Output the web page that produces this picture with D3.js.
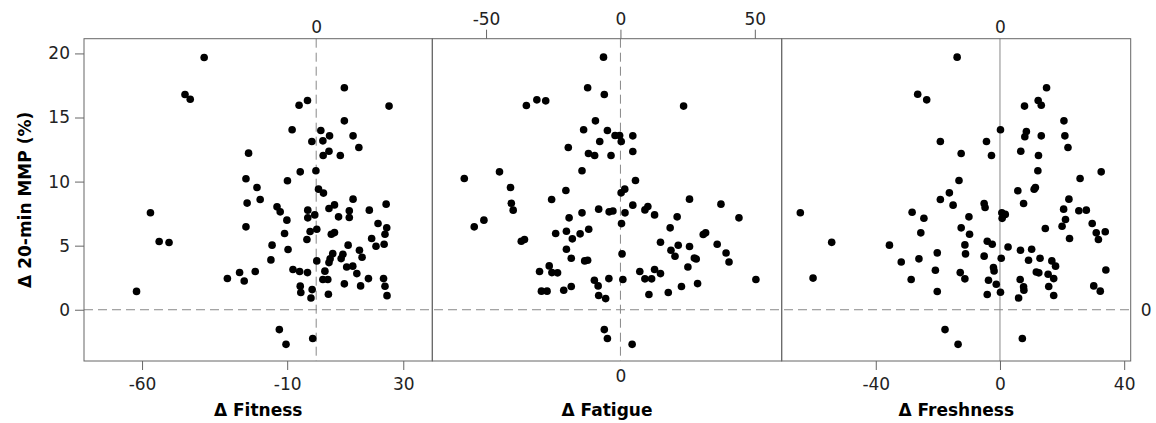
<!DOCTYPE html>
<html>
<head>
<meta charset="utf-8">
<script src="https://cdn.jsdelivr.net/npm/d3@7"></script>
<style>
  body { margin: 0; background: #fff; }
  svg { display: block; font-family: "DejaVu Sans", Verdana, sans-serif; }
  .tick text, .lbl { fill: #222; font-size: 17px; font-family: "DejaVu Sans", Verdana, sans-serif; }
  .tick line { stroke: #666; }
  .title { font-weight: bold; font-size: 17px; fill: #000; }
</style>
</head>
<body>
<svg id="chart" width="1156" height="423"></svg>
<script>
// y values shared by all three panels
var yTicks = [0, 5, 10, 15, 20];
var yDomain = [-4, 21.15];

// Δ Fitness vs Δ 20-min MMP
var fitness = [
  [-38.6,19.68],[-45.2,16.8],[-43.4,16.43],[-57.1,7.57],[-54.1,5.33],[-50.7,5.25],[-61.9,1.43],
  [-30.6,2.44],[-26.4,2.91],[-24.8,2.24],[-23.3,12.22],[-24.2,10.22],[-23.8,8.32],[-24.2,6.47],
  [9.7,17.32],[25.1,15.89],[-5.9,15.96],[-3.0,16.33],[9.7,14.74],[-8.3,14.04],[1.6,13.99],
  [4.6,13.57],[2.3,13.18],[-1.5,13.13],[12.7,13.57],[14.7,12.66],[4.4,12.37],[2.4,12.04],
  [8.3,12.04],[-5.5,10.76],[-0.1,10.84],[-9.9,10.06],[0.8,9.41],[2.5,9.10],[-20.4,9.54],
  [-19.3,8.60],[12.7,8.63],[24.1,8.24],[-13.5,8.03],[-12.4,7.64],[-10.1,6.99],[-2.9,7.77],
  [-2.9,7.17],[-0.5,7.40],[4.4,7.90],[6.3,8.18],[7.7,7.25],[11.4,7.72],[11.4,7.20],[18.3,7.77],
  [21.3,6.73],[24.3,6.39],[23.7,5.89],[-2.1,6.10],[0.2,6.28],[-3.2,5.48],[-10.9,5.95],[5.2,5.89],
  [6.3,6.02],[19.1,5.56],[20.6,4.96],[23.4,5.11],[-15.2,5.04],[-9.7,4.70],[-15.6,3.89],
  [-21.0,2.98],[11.0,5.04],[14.9,4.64],[15.8,4.10],[5.7,4.38],[4.8,3.97],[4.4,3.68],[9.2,4.33],
  [8.6,3.99],[10.5,3.34],[12.6,3.40],[14.0,2.82],[18.0,2.43],[15.3,1.86],[9.7,2.02],[0.2,3.81],
  [-8.0,3.14],[-5.7,2.98],[-3.0,2.90],[3.0,3.01],[2.3,2.36],[4.0,2.36],[-5.5,1.84],[-5.3,1.34],
  [-1.4,1.57],[-1.8,0.92],[4.2,1.21],[23.2,2.43],[23.7,1.83],[24.4,1.10],[-12.7,-1.55],
  [-10.4,-2.70],[-1.2,-2.25]
];

// Δ Fatigue vs Δ 20-min MMP
var fatigue = [
  [-6.3,19.71],[-12.2,17.32],[-6.0,16.80],[-35.0,15.94],[-31.1,16.38],[-27.8,16.30],[-9.3,14.74],
  [-13.7,14.04],[-4.85,13.99],[-7.7,13.13],[-11.9,12.19],[-9.6,12.03],[-3.5,12.03],[-19.4,12.66],
  [-14.3,10.84],[-58.1,10.24],[-45.0,10.76],[-40.9,9.54],[-40.6,8.31],[-39.9,7.77],[-20.3,9.30],
  [-25.6,8.60],[-54.4,6.47],[-50.8,6.99],[-36.9,5.35],[-35.7,5.48],[-19.1,7.17],[-14.3,7.56],
  [-8.1,7.85],[-4.2,7.64],[-24.1,5.95],[-20.1,6.13],[-17.9,5.53],[-15.0,5.92],[-11.8,6.28],
  [-20.1,4.72],[-18.3,4.02],[-13.3,3.81],[-12.2,3.86],[-30.1,2.98],[-26.5,3.42],[-25.5,2.90],
  [-23.4,2.88],[-29.4,1.45],[-27.3,1.45],[-21.1,1.52],[-18.3,1.81],[-9.7,2.30],[-8.3,1.86],
  [-8.1,1.11],[-5.5,0.87],[-4.3,2.43],[-6.0,-1.55],[-4.85,-2.25],
  [23.5,15.89],[-2.0,13.6],[-0.3,13.6],[0.3,13.13],[4.6,13.57],[4.6,12.35],[5.6,10.08],
  [0.25,9.12],[1.6,9.41],[25.7,8.63],[37.4,8.24],[44.1,7.17],[-2.8,7.7],[1.7,7.56],[4.6,8.16],
  [9.1,7.79],[10.2,8.05],[12.7,7.40],[0.4,6.72],[21.1,7.25],[18.5,6.39],[30.8,5.87],[31.7,6.00],
  [14.9,5.27],[21.5,5.03],[18.8,4.64],[20.3,4.17],[25.7,4.93],[36.0,5.11],[39.3,4.43],[40.4,3.73],
  [25.1,3.34],[27.5,4.04],[28.2,3.96],[0.6,4.36],[7.2,2.98],[9.1,2.41],[11.6,2.41],[12.7,3.14],
  [14.9,2.82],[0.9,2.36],[10.6,1.19],[17.8,1.34],[22.7,1.81],[28.7,2.04],[50.4,2.36],[4.35,-2.70]
];

// Δ Freshness vs Δ 20-min MMP
var freshness = [
  [-64.3,7.57],[-60.2,2.47],[-54.2,5.26],
  [-13.8,19.71],[-26.5,16.82],[-23.6,16.38],[-19.2,13.13],[-12.5,12.19],[-4.35,13.13],
  [-2.74,12.03],[-13.2,10.08],[-16.3,9.12],[-19.2,8.60],[-15.1,8.16],[-28.3,7.61],[-24.5,7.14],
  [-25.5,6.00],[-5.1,8.29],[-4.8,7.98],[-10.0,7.25],[-12.5,6.39],[-9.8,5.89],[-11.3,5.06],
  [-11.1,4.36],[-4.1,5.35],[-2.5,5.11],[-5.1,4.18],[-35.6,5.04],[-31.8,3.73],[-26.1,3.97],
  [-20.2,4.44],[-20.8,3.08],[-12.8,2.90],[-11.3,2.41],[-28.6,2.36],[-20.2,1.42],[-2.1,3.29],
  [-1.9,3.03],[-3.7,2.30],[-1.2,1.99],[-4.1,1.19],[-17.7,-1.55],[-13.5,-2.70],
  [15.0,17.32],[7.9,15.89],[12.3,16.33],[13.3,15.96],[20.6,14.74],[0.16,14.04],[8.5,13.9],
  [8.0,13.5],[13.3,13.57],[20.9,13.57],[21.9,12.66],[6.7,12.37],[12.4,12.03],[12.2,10.84],
  [32.6,10.76],[25.8,10.24],[11.0,9.4],[11.4,9.54],[5.75,9.28],[7.6,8.29],[22.2,8.63],[20.5,7.85],
  [21.1,7.04],[20.0,6.52],[25.4,7.72],[27.8,7.77],[0.6,7.57],[1.7,7.44],[0.7,7.13],[14.6,6.34],
  [22.4,5.56],[29.7,6.73],[31.0,6.00],[31.7,5.48],[33.9,6.08],[34.1,3.10],[30.2,1.86],[32.3,1.45],
  [2.6,4.90],[0.4,4.02],[6.6,4.64],[10.2,4.72],[9.2,3.86],[12.9,4.02],[16.7,3.81],[17.9,3.40],
  [11.7,2.95],[12.5,2.88],[15.5,2.77],[17.3,2.43],[15.7,1.81],[17.3,1.11],[6.5,2.36],[7.6,1.79],
  [7.7,1.53],[6.0,0.92],[0.16,1.37],[7.2,-2.25]
];

var panelTitles = ["\u0394 Fitness", "\u0394 Fatigue", "\u0394 Freshness"];
var xDomains = [[-80, 40], [-70, 60], [-70.3, 42.1]];
var bottomTicks = [[-60, -10, 30], [0], [-40, 0, 40]];
var topTicks = [[0], [-50, 0, 50], [0]];
var panelData = [fitness, fatigue, freshness];

var svg = d3.select("#chart");
var plotTop = 38.7, plotBottom = 361;
var edges = [84, 432.3, 781.7, 1130.7];
// plain hyphen minus, like the original
var fmt = function(d){ return String(d); };

var y = d3.scaleLinear().domain(yDomain).range([plotBottom, plotTop]);

// y axis on the left
var yAxis = svg.append("g")
    .attr("transform", "translate(" + edges[0] + ",0)")
    .call(d3.axisLeft(y).tickValues(yTicks).tickFormat(fmt).tickSize(9).tickPadding(5).tickSizeOuter(0));
yAxis.select(".domain").remove();

// zero reference across all panels
svg.append("line")
    .attr("x1", edges[0]).attr("x2", edges[3])
    .attr("y1", y(0)).attr("y2", y(0))
    .attr("stroke", "#888").attr("stroke-dasharray", "9,5");
svg.append("text")
    .attr("class", "lbl")
    .attr("x", edges[3] + 10).attr("y", y(0))
    .attr("dy", "0.35em")
    .text("0");

panelData.forEach(function(data, i){
    var x = d3.scaleLinear().domain(xDomains[i]).range([edges[i], edges[i + 1]]);
    var g = svg.append("g");

    // vertical zero line: dashed for fitness/fatigue, solid for freshness
    g.append("line")
        .attr("x1", x(0)).attr("x2", x(0))
        .attr("y1", plotTop).attr("y2", plotBottom)
        .attr("stroke", "#888")
        .attr("stroke-dasharray", i == 2 ? null : "9,5");

    var noTickBottom = (i == 1);
    var bAxis = g.append("g")
        .attr("transform", "translate(0," + plotBottom + ")")
        .call(d3.axisBottom(x).tickValues(bottomTicks[i]).tickFormat(fmt)
            .tickSize(noTickBottom ? 0 : 9).tickPadding(noTickBottom ? 9 : 8).tickSizeOuter(0));
    bAxis.select(".domain").remove();

    var noTickTop = (i != 1);
    var tAxis = g.append("g")
        .attr("transform", "translate(0," + plotTop + ")")
        .call(d3.axisTop(x).tickValues(topTicks[i]).tickFormat(fmt)
            .tickSize(noTickTop ? 0 : 9).tickPadding(noTickTop ? 6 : 5).tickSizeOuter(0));
    tAxis.select(".domain").remove();

    g.append("rect")
        .attr("x", edges[i]).attr("y", plotTop)
        .attr("width", edges[i + 1] - edges[i]).attr("height", plotBottom - plotTop)
        .attr("fill", "none").attr("stroke", "#666");

    g.selectAll("circle")
        .data(data)
        .enter()
        .append("circle")
        .attr("cx", function(d){ return x(d[0]); })
        .attr("cy", function(d){ return y(d[1]); })
        .attr("r", 3.8)
        .attr("fill", "#000");

    g.append("text")
        .attr("class", "title")
        .attr("text-anchor", "middle")
        .attr("x", (edges[i] + edges[i + 1]) / 2)
        .attr("y", 416)
        .text(panelTitles[i]);
});

svg.append("text")
    .attr("class", "title")
    .attr("text-anchor", "middle")
    .attr("transform", "translate(31," + ((plotTop + plotBottom) / 2) + ") rotate(-90)")
    .text("\u0394 20-min MMP (%)");
</script>
</body>
</html>
